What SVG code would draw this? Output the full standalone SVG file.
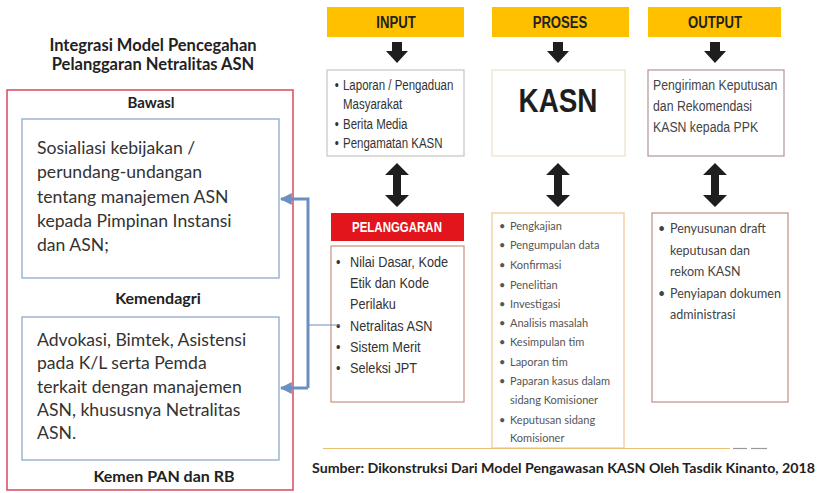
<svg xmlns="http://www.w3.org/2000/svg" width="839" height="493" viewBox="0 0 839 493">
<style>
.lato{font-family:Lato,"Open Sans","Liberation Sans",sans-serif;}
.nar{font-family:"Liberation Sans",Arial,sans-serif;}
.ttl{font-weight:bold;font-size:16px;fill:#222;text-anchor:middle;}
.ttl2{font-weight:bold;font-size:16.5px;fill:#222;text-anchor:middle;}
.big{font-size:17.6px;fill:#333;}
.hdr{fill:#ffc000;}
.hdrt{font-weight:bold;font-size:16px;fill:#222;text-anchor:middle;}
.in{font-size:14px;fill:#333;}
.pl{font-size:15.5px;fill:#333;}
.pr{font-size:11px;fill:#555;}
.op{font-size:15px;fill:#444;}
.ol{font-size:12.5px;fill:#444;}
.blk{fill:#1e1e1e;}
</style>
<defs>
<path id="dn" d="M-5,0 H5 V9 H11 L0,21 L-11,9 H-5 Z"/>
<path id="dbl" d="M0,0 L12,12 H4 V32 H12 L0,44 L-12,32 H-4 V12 H-12 Z"/>
<marker id="ah" viewBox="0 0 10 10" refX="9" refY="5" markerWidth="4" markerHeight="4" orient="auto"><path d="M0,0 L10,5 L0,10 Z" fill="#6b8fc0"/></marker>
</defs>
<rect width="839" height="493" fill="#fff"/>

<g id="title">
<text class="lato ttl2" x="153" y="51">Integrasi Model Pencegahan</text>
<text class="lato ttl2" x="153" y="70">Pelanggaran Netralitas ASN</text>
</g>

<g id="left-panel">
<rect x="7" y="90" width="286" height="400" fill="none" stroke="#d94a5a" stroke-width="1.5"/>
<text class="lato ttl" x="151" y="108" style="font-size:15px">Bawasl</text>
<text class="lato ttl" x="158" y="304">Kemendagri</text>
<text class="lato ttl" x="164" y="482">Kemen PAN dan RB</text>
</g>

<g id="bawasl-box">
<rect x="22" y="119" width="257" height="159" fill="#fff" stroke="#8ea9cc" stroke-width="1.3"/>
<text class="lato big" x="37" y="154">Sosialiasi kebijakan /</text>
<text class="lato big" x="37" y="178">perundang-undangan</text>
<text class="lato big" x="37" y="203">tentang manajemen ASN</text>
<text class="lato big" x="37" y="227">kepada Pimpinan Instansi</text>
<text class="lato big" x="37" y="251">dan ASN;</text>
</g>

<g id="kemendagri-box">
<rect x="22" y="317" width="257" height="143" fill="#fff" stroke="#8ea9cc" stroke-width="1.3"/>
<text class="lato big" x="37" y="346">Advokasi, Bimtek, Asistensi</text>
<text class="lato big" x="37" y="369">pada K/L serta Pemda</text>
<text class="lato big" x="37" y="393">terkait dengan manajemen</text>
<text class="lato big" x="37" y="416">ASN, khususnya Netralitas</text>
<text class="lato big" x="37" y="439">ASN.</text>
</g>

<g id="input-header"><rect class="hdr" x="327" y="7" width="137" height="30"/><text class="nar hdrt" x="396" y="28" transform="translate(396,0) scale(0.82,1) translate(-396,0)">INPUT</text></g>
<g id="proses-header"><rect class="hdr" x="492" y="7" width="137" height="30"/><text class="nar hdrt" x="560" y="28" transform="translate(560,0) scale(0.82,1) translate(-560,0)">PROSES</text></g>
<g id="output-header"><rect class="hdr" x="648" y="7" width="133" height="30"/><text class="nar hdrt" x="715" y="28" transform="translate(715,0) scale(0.82,1) translate(-715,0)">OUTPUT</text></g>

<g id="input-box">
<rect x="327" y="70" width="137" height="86" fill="#fff" stroke="#c8c4c4" stroke-width="1.2"/>
<g class="nar in" transform="translate(343,0) scale(0.82,1) translate(-343,0)">
<text x="333" y="90">•</text><text x="343" y="90">Laporan / Pengaduan</text>
<text x="343" y="109">Masyarakat</text>
<text x="333" y="129">•</text><text x="343" y="129">Berita Media</text>
<text x="333" y="148">•</text><text x="343" y="148">Pengamatan KASN</text>
</g>
</g>

<g id="kasn-box">
<rect x="492" y="70" width="133" height="86" fill="#fff" stroke="#ece2c4" stroke-width="1.2"/>
<text class="nar" x="558" y="112" font-size="34" font-weight="bold" fill="#1e1e1e" text-anchor="middle" transform="translate(558,0) scale(0.82,1) translate(-558,0)">KASN</text>
</g>

<g id="output-box">
<rect x="648" y="70" width="136" height="86" fill="#fff" stroke="#b49494" stroke-width="1.2"/>
<g class="nar op" transform="translate(653,0) scale(0.82,1) translate(-653,0)">
<text x="653" y="90">Pengiriman Keputusan</text>
<text x="653" y="111">dan Rekomendasi</text>
<text x="653" y="132">KASN kepada PPK</text>
</g>
</g>

<g id="pelanggaran-header">
<rect x="331" y="213" width="133" height="28" fill="#e3151c"/>
<text class="nar" x="397" y="232" font-size="14" font-weight="bold" fill="#fff" text-anchor="middle" transform="translate(397,0) scale(0.82,1) translate(-397,0)">PELANGGARAN</text>
</g>

<g id="pelanggaran-box">
<rect x="331" y="246" width="133" height="156" fill="#fff" stroke="#c89080" stroke-width="1.2"/>
<g class="nar pl" transform="translate(350,0) scale(0.82,1) translate(-350,0)">
<text x="333" y="267">•</text><text x="350" y="267">Nilai Dasar, Kode</text>
<text x="350" y="288">Etik dan Kode</text>
<text x="350" y="309">Perilaku</text>
<text x="333" y="331">•</text><text x="350" y="331">Netralitas ASN</text>
<text x="333" y="352">•</text><text x="350" y="352">Sistem Merit</text>
<text x="333" y="373">•</text><text x="350" y="373">Seleksi JPT</text>
</g>
</g>

<g id="proses-box">
<rect x="492" y="213" width="132" height="235" fill="#fff" stroke="#f0c890" stroke-width="1.2"/>
<g class="lato pr">
<text x="499" y="230">•</text><text x="510" y="230">Pengkajian</text>
<text x="499" y="249">•</text><text x="510" y="249">Pengumpulan data</text>
<text x="499" y="269">•</text><text x="510" y="269">Konfirmasi</text>
<text x="499" y="289">•</text><text x="510" y="289">Penelitian</text>
<text x="499" y="308">•</text><text x="510" y="308">Investigasi</text>
<text x="499" y="327">•</text><text x="510" y="327">Analisis masalah</text>
<text x="499" y="346">•</text><text x="510" y="346">Kesimpulan tim</text>
<text x="499" y="366">•</text><text x="510" y="366">Laporan tim</text>
<text x="499" y="385">•</text><text x="510" y="385">Paparan kasus dalam</text>
<text x="510" y="404">sidang Komisioner</text>
<text x="499" y="424">•</text><text x="510" y="424">Keputusan sidang</text>
<text x="510" y="442">Komisioner</text>
</g>
</g>

<g id="output-list-box">
<rect x="652" y="213" width="136" height="189" fill="#fff" stroke="#c09080" stroke-width="1.2"/>
<g class="lato ol">
<text x="658" y="233">•</text><text x="670" y="233">Penyusunan draft</text>
<text x="670" y="255">keputusan dan</text>
<text x="670" y="276">rekom KASN</text>
<text x="658" y="298">•</text><text x="670" y="298">Penyiapan dokumen</text>
<text x="670" y="319">administrasi</text>
</g>
</g>

<g id="connectors">
<use href="#dn" x="397" y="42" class="blk"/>
<use href="#dn" x="558" y="42" class="blk"/>
<use href="#dn" x="715" y="42" class="blk"/>
<use href="#dbl" x="397" y="163" class="blk"/>
<use href="#dbl" x="558" y="163" class="blk"/>
<use href="#dbl" x="715" y="163" class="blk"/>
<g fill="none" stroke="#6b8fc0">
<path d="M308,388 V199 H281" stroke-width="3" marker-end="url(#ah)"/>
<path d="M308,388 H281" stroke-width="3" marker-end="url(#ah)"/>
<path d="M308,325 H340" stroke-width="1"/>
</g>
</g>

<g id="footer">
<line x1="323" y1="448.5" x2="730" y2="448.5" stroke="#e8c070" stroke-width="1.2"/>
<line x1="733" y1="448.5" x2="747" y2="448.5" stroke="#999" stroke-width="1.2"/>
<line x1="751" y1="448.5" x2="767" y2="448.5" stroke="#999" stroke-width="1.2"/>
<text class="lato" x="312" y="473" font-size="13.5" font-weight="bold" fill="#222" textLength="503" lengthAdjust="spacingAndGlyphs">Sumber: Dikonstruksi Dari Model Pengawasan KASN Oleh Tasdik Kinanto, 2018</text>
</g>
</svg>
